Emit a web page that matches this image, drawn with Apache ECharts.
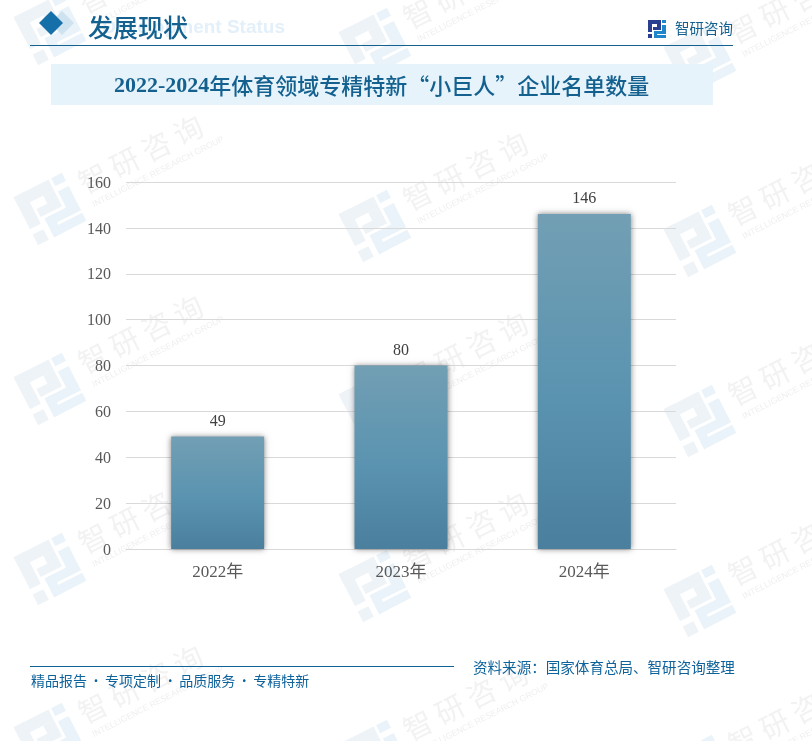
<!DOCTYPE html>
<html><head><meta charset="utf-8">
<style>html,body{margin:0;padding:0;background:#fff}#c{width:812px;height:741px}</style>
<script src="https://cdn.jsdelivr.net/npm/echarts@6/dist/echarts.min.js"></script>
</head><body><div id="c"></div>
<script>
const categories = ['2022年','2023年','2024年'];
const values = [49,80,146];
const yTicks = {min:0,max:160,interval:20};
const titleYears = '2022-2024';
const titleRest = '年体育领域专精特新“小巨人”企业名单数量';
const sectionTitle = '发展现状';
const sectionEnglish = 'Development Status';
const brand = '智研咨询';
const brandEnglish = 'INTELLIGENCE RESEARCH GROUP';
const sourceText = '资料来源：国家体育总局、智研咨询整理';
const sloganParts = ['精品报告','专项定制','品质服务','专精特新'];
const waterOrigins = [[50,29],[375,44],[700,59],[50,209],[375,226],[700,241],[50,389],[375,406],[700,421],[50,569],[375,586],[700,601],[50,739],[375,756],[700,771]];

const serif = '"Liberation Serif","Noto Sans CJK SC",serif';
const cjk = '"Noto Sans CJK SC",sans-serif';
const TILT = 0.47;

function logo(x,y,s,dark,light,rot,z){
  const d=[[0,0,13,4],[0,0,4,12],[0,14,4,4],[9,4,4,4],[5,7,8,3]];
  const l=[[14,0,4,3],[14,5,4,9],[6,11,12,3],[6,11,3,7],[6,15,12,3]];
  const mk=(a,fill)=>a.map(r=>({type:'rect',shape:{x:(r[0]-9)*s,y:(r[1]-9)*s,width:r[2]*s,height:r[3]*s},style:{fill}}));
  return {type:'group',x,y,rotation:rot,silent:true,z,children:mk(d,dark).concat(mk(l,light))};
}
const wm = [];
waterOrigins.forEach(([x,y])=>{
  wm.push(logo(x,y,3,'#eef3f7','#e9f3f9',TILT,0));
  wm.push({type:'text',x:x+30,y:y-24,rotation:TILT,silent:true,z:0,
    style:{text:brand.split('').join(' '),fill:'rgba(190,190,190,0.2)',font:'400 29px '+cjk,verticalAlign:'middle'}});
  wm.push({type:'text',x:x+43,y:y-4,rotation:TILT,silent:true,z:0,
    style:{text:brandEnglish,fill:'rgba(190,190,190,0.25)',font:'8.6px "Liberation Sans",sans-serif',verticalAlign:'middle'}});
});
const sep = {fontSize:12.5,fontFamily:cjk,fill:'#0f639b'};
const header=[
  {type:'text',x:285,y:28,z:1,style:{text:sectionEnglish,fill:'#e3f0fa',font:'700 19px "Liberation Sans",sans-serif',align:'right',verticalAlign:'middle'}},
  {type:'polygon',z:2,shape:{points:[[62,11],[74,23],[62,35],[50,23]]},style:{fill:'#cfe2f0'}},
  {type:'polygon',z:3,shape:{points:[[51,11],[63,23],[51,35],[39,23]]},style:{fill:'#156fa8'}},
  {type:'text',x:88,y:27,z:3,style:{text:sectionTitle,fill:'#14618f',font:'500 25px '+cjk,verticalAlign:'middle'}},
  {type:'rect',z:3,shape:{x:30,y:45,width:703,height:1},style:{fill:'#14618f'}},
  {type:'rect',z:1,shape:{x:51,y:64,width:662,height:41},style:{fill:'#e6f3fb'}},
  {type:'text',x:114,y:86,z:3,style:{text:'{d|'+titleYears+'}{c|'+titleRest+'}',verticalAlign:'middle',
    rich:{d:{fontSize:22,fontWeight:700,fontFamily:'"Liberation Serif",serif',fill:'#14618f'},
          c:{fontSize:22,fontWeight:500,fontFamily:'"Noto Sans CJK SC",sans-serif',fill:'#14618f'}}}},
  logo(657,29,1,'#2a3f8f','#1f86cc',0,3),
  {type:'text',x:675,y:28,z:3,style:{text:brand,fill:'#14618f',font:'14.5px '+cjk,verticalAlign:'middle'}},
  {type:'rect',z:3,shape:{x:30,y:666,width:424,height:1},style:{fill:'#0f639b'}},
  {type:'text',x:473,y:667,z:3,style:{text:sourceText,fill:'#0f639b',font:'14.55px '+cjk,verticalAlign:'middle'}},
  {type:'text',x:31,y:681,z:3,style:{text:sloganParts.map(p=>'{t|'+p+'}').join('{s| · }'),verticalAlign:'middle',
    rich:{t:{fontSize:14,fontFamily:cjk,fill:'#0f639b'},s:sep}}}
];
const chart=echarts.init(document.getElementById('c'),null,{renderer:'canvas'});
chart.setOption({
  animation:false,
  backgroundColor:'#fff',
  grid:{left:126,right:136,top:182,bottom:192},
  xAxis:{type:'category',data:categories,axisTick:{show:false},
    axisLine:{lineStyle:{color:'#d9d9d9',width:1}},
    axisLabel:{color:'#595959',fontSize:17,fontFamily:serif,margin:15}},
  yAxis:{type:'value',min:yTicks.min,max:yTicks.max,interval:yTicks.interval,
    axisLine:{show:false},axisTick:{show:false},
    axisLabel:{margin:15,formatter:'{a|{value}}',
      rich:{a:{color:'#595959',fontSize:16,fontFamily:serif,padding:[3,0,0,0]}}},
    splitLine:{lineStyle:{color:'#d9d9d9',width:1}}},
  series:[{type:'bar',data:values,barWidth:93,z:5,
    itemStyle:{color:new echarts.graphic.LinearGradient(0,0,0,1,[{offset:0,color:'#729fb4'},{offset:.55,color:'#5a93b0'},{offset:1,color:'#4a7f9d'}]),
      shadowColor:'rgba(0,0,0,0.5)',shadowBlur:6,shadowOffsetX:0,shadowOffsetY:0},
    label:{show:true,position:'top',distance:7,color:'#404040',fontSize:16,fontFamily:serif}}],
  graphic:{elements:wm.concat(header)}
});
</script></body></html>
